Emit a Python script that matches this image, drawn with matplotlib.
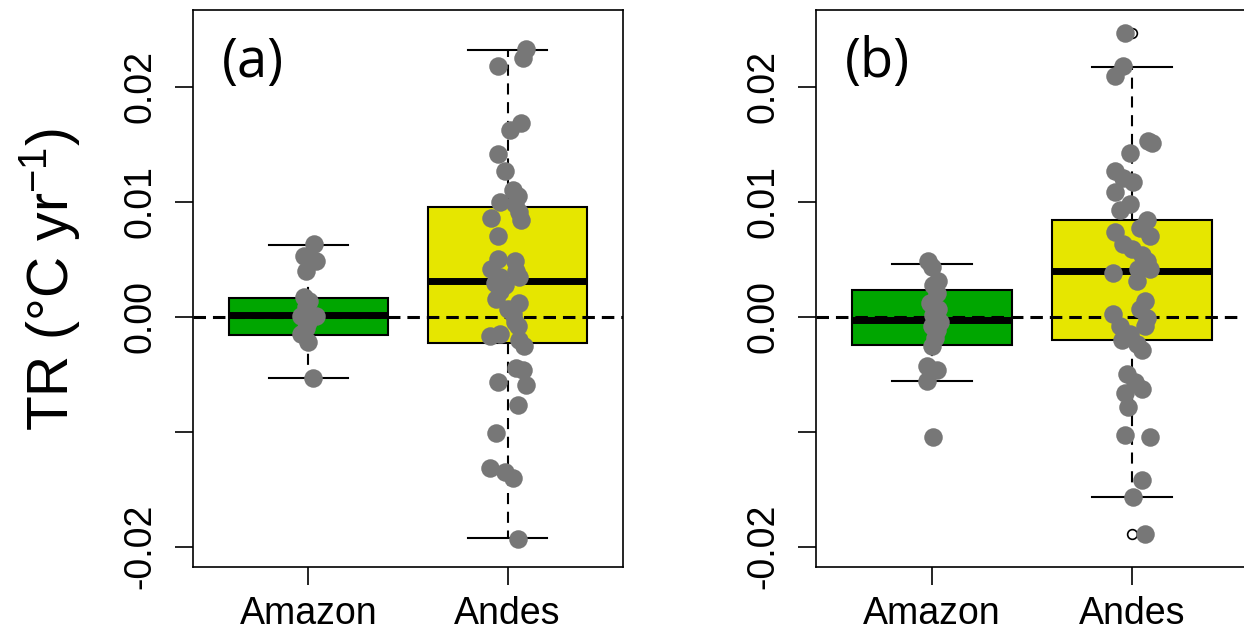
import matplotlib
matplotlib.use('Agg')
import matplotlib.pyplot as plt
import numpy as np

plt.rcParams['font.family'] = ['Liberation Sans', 'DejaVu Sans']
plt.rcParams['mathtext.fontset'] = 'custom'
plt.rcParams['mathtext.rm'] = 'Liberation Sans'
plt.rcParams['mathtext.it'] = 'Liberation Sans:italic'
plt.rcParams['mathtext.bf'] = 'Liberation Sans:bold'
plt.rcParams['lines.scale_dashes'] = False

# ---------------- data ----------------
categories = ['Amazon', 'Andes']
panel_labels = ['(a)', '(b)']
ylabel_text = 'TR (°C yr$^{-1}$)'
ytick_values = [-0.02, -0.01, 0.0, 0.01, 0.02]
ytick_labels = ['-0.02', '', '0.00', '0.01', '0.02']
box_colors = ['#00A600', '#E6E600']
point_color = '#777777'

# panel (a) points
a_amazon_vals = [0.00629, 0.00530, 0.00488, 0.00399, 0.00170, 0.00134, 0.00081,
                 0.00010, 0.00010, -0.00042, -0.00095, -0.00148, -0.00219, -0.00537]
a_amazon_jit = [0.030, -0.020, 0.039, -0.012, -0.020, 0.003, -0.012,
                -0.037, 0.039, 0.000, -0.012, -0.037, -0.003, 0.022]
a_andes_vals = [0.02332, 0.02254, 0.02184, 0.01689, 0.01625, 0.01413, 0.01265,
                0.01106, 0.01053, 0.01000, 0.00982, 0.00912, 0.00859, 0.00841,
                0.00700, 0.00505, 0.00488, 0.00417, 0.00399, 0.00346, 0.00346,
                0.00293, 0.00276, 0.00223, 0.00152, 0.00117, 0.00064, 0.00028,
                -0.00042, -0.00078, -0.00166, -0.00148, -0.00201, -0.00254,
                -0.00449, -0.00466, -0.00590, -0.00572, -0.00767, -0.01014,
                -0.01314, -0.01350, -0.01403, -0.01933]
a_andes_jit = [0.094, 0.077, -0.049, 0.069, 0.010, -0.049, -0.015,
               0.027, 0.052, -0.040, 0.035, 0.060, -0.082, 0.069,
               -0.049, -0.049, 0.035, -0.082, 0.044, -0.040, 0.060,
               -0.065, -0.015, -0.040, -0.057, 0.060, 0.001, 0.027,
               0.035, 0.052, -0.090, -0.040, 0.060, 0.085,
               0.044, 0.077, 0.094, -0.049, 0.052, -0.057,
               -0.090, -0.015, 0.027, 0.052]

# panel (b) points
b_amazon_vals = [0.00488, 0.00435, 0.00311, 0.00276, 0.00205, 0.00117, 0.00064,
                 0.00011, -0.00042, -0.00078, -0.00113, -0.00184, -0.00254,
                 -0.00431, -0.00466, -0.00555, -0.01049]
b_amazon_jit = [-0.018, -0.002, 0.032, 0.007, 0.023, -0.010, 0.032,
                0.007, 0.040, -0.002, 0.023, 0.015, -0.002,
                -0.027, 0.023, -0.027, 0.003]
b_andes_vals = [0.02473, 0.02184, 0.02095, 0.01530, 0.01512, 0.01424, 0.01265,
                0.01212, 0.01177, 0.01088, 0.00982, 0.00929, 0.00841, 0.00770,
                0.00735, 0.00700, 0.00629, 0.00594, 0.00541, 0.00488, 0.00417,
                0.00417, 0.00382, 0.00311, 0.00134, 0.00064, 0.00028, -0.00007,
                -0.00078, -0.00078, -0.00148, -0.00201, -0.00237, -0.00290,
                -0.00502, -0.00572, -0.00625, -0.00661, -0.00784, -0.01032,
                -0.01050, -0.01420, -0.01569, -0.01887]
b_andes_jit = [-0.035, -0.043, -0.085, 0.082, 0.098, -0.010, -0.085,
               -0.043, 0.007, -0.085, -0.010, -0.060, 0.073, 0.040,
               -0.085, 0.090, -0.043, -0.002, 0.048, 0.073, 0.032,
               0.090, -0.093, 0.023, 0.065, 0.040, -0.093, 0.073,
               0.065, -0.060, -0.010, -0.052, 0.023, 0.048,
               -0.027, 0.015, 0.048, -0.035, -0.018, -0.035,
               0.090, 0.048, 0.007, 0.065]

# box statistics: [q1, median, q3, lower whisker, upper whisker]
a_amazon_box = [-0.00155, 0.00018, 0.00163, -0.00534, 0.00622]
a_andes_box = [-0.00226, 0.00307, 0.00958, -0.01926, 0.02318]
b_amazon_box = [-0.00247, -0.00025, 0.00233, -0.00562, 0.00463]
b_andes_box = [-0.00201, 0.00399, 0.00841, -0.01572, 0.02173]

# outliers
a_amazon_out = []
a_andes_out = []
b_amazon_out = [-0.01049]
b_andes_out = [0.02473, -0.01887]

panels = [
    dict(vals=[a_amazon_vals, a_andes_vals], jit=[a_amazon_jit, a_andes_jit],
         box=[a_amazon_box, a_andes_box], out=[a_amazon_out, a_andes_out]),
    dict(vals=[b_amazon_vals, b_andes_vals], jit=[b_amazon_jit, b_andes_jit],
         box=[b_amazon_box, b_andes_box], out=[b_amazon_out, b_andes_out]),
]

# ---------------- figure ----------------
W, H = 1244, 637
fig = plt.figure(figsize=(W / 100, H / 100), dpi=100)
rects = [[193 / W, 70 / H, 430 / W, 557 / H],
         [816 / W, 70 / H, 432 / W, 557 / H]]
label_pos = [(222, 62), (845, 62)]

for k, (p, rect) in enumerate(zip(panels, rects)):
    ax = fig.add_axes(rect)
    stats = []
    for i, cat in enumerate(categories):
        q1, med, q3, wlo, whi = p['box'][i]
        stats.append(dict(q1=q1, med=med, q3=q3, whislo=wlo, whishi=whi,
                          fliers=p['out'][i], label=cat))
    bp = ax.bxp(stats, positions=[1, 2], widths=0.8, capwidths=0.4,
                patch_artist=True, showfliers=True,
                boxprops=dict(linewidth=1.5, edgecolor='black'),
                medianprops=dict(color='black', linewidth=5, solid_capstyle='butt'),
                whiskerprops=dict(color='black', linewidth=1.5, linestyle=(0, (8, 5.5))),
                capprops=dict(color='black', linewidth=1.5),
                flierprops=dict(marker='o', markerfacecolor='none',
                                markeredgecolor='black', markersize=7,
                                markeredgewidth=1.2))
    for patch, c in zip(bp['boxes'], box_colors):
        patch.set_facecolor(c)
    ax.axhline(0, color='black', linewidth=2.2, linestyle=(0, (9, 5)), zorder=3)
    for i in range(len(categories)):
        xs = (i + 1) + np.array(p['jit'][i])
        ax.scatter(xs, p['vals'][i], s=178, color=point_color, linewidths=0,
                   zorder=4)

    ax.set_xlim(0.42, 2.58)
    ax.set_ylim(-0.02178, 0.0267)
    ax.set_xticks([1, 2])
    ax.set_xticklabels(categories)
    ax.set_yticks(ytick_values)
    ax.set_yticklabels(ytick_labels, rotation=90, va='center')
    ax.tick_params(axis='both', direction='out', length=13, width=1.2,
                   labelsize=27, color='black')
    ax.tick_params(axis='y', pad=12)
    ax.tick_params(axis='x', pad=8)
    for sp in ax.spines.values():
        sp.set_linewidth(1.2)
    fig.text(label_pos[k][0] / W, 1 - label_pos[k][1] / H, panel_labels[k],
             fontsize=39, family=['Open Sans', 'DejaVu Sans'],
             ha='left', va='center')

fig.text(50 / W, 1 - 280 / H, ylabel_text, fontsize=41, rotation=90,
         ha='center', va='center')

fig.savefig('out.png', dpi=100)
